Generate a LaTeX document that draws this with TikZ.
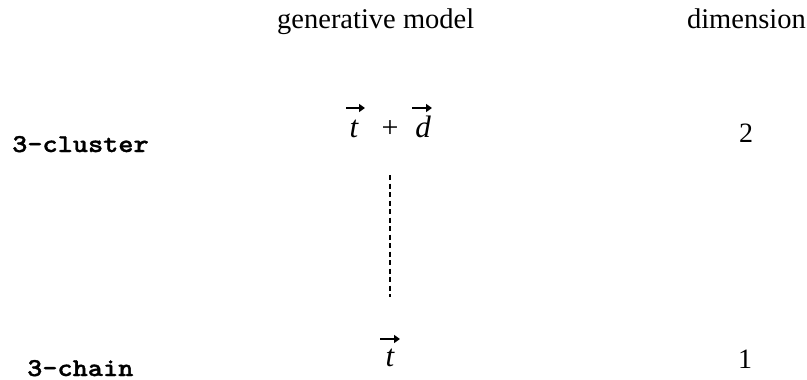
\documentclass[tikz,border=0pt]{standalone}
\usepackage{fontspec}
\setmainfont{Liberation Serif}
\newfontfamily\courb[FakeBold=1.2]{lmmonolt10-bold.otf}
\usetikzlibrary{calc,arrows.meta}
\tikzset{
  hd/.style={inner sep=0pt, anchor=base, font=\fontsize{28.5}{32}\selectfont},
  num/.style={inner sep=0pt, anchor=base, font=\fontsize{28}{32}\selectfont},
  lbl/.style={inner sep=0pt, anchor=base west, font=\fontsize{27}{30}\selectfont\courb},
  mvar/.style={inner sep=0pt, anchor=base, font=\fontsize{31}{34}\selectfont\itshape},
  mop/.style={inner sep=0pt, anchor=base, font=\fontsize{30}{34}\selectfont},
  vecarrow/.style={line width=2.2pt, -{Triangle[length=6pt,width=8pt]}},
  dotline/.style={line width=1.5pt, dash pattern=on 5pt off 3.5pt}
}
\begin{document}
\begin{tikzpicture}[x=1pt,y=-1pt]
\useasboundingbox (0,0) rectangle (807,380);
% headings
\node[hd, anchor=base west] (gm) at (277,28) {generative model};
\node[hd, anchor=base east] (dim) at (806,28) {dimension};
% row 1
\node[lbl] (cl) at (12,152) {\scalebox{1.07}[0.95]{3-cluster}};
\node[mvar] (tA) at (354,137) {t};
\node[mop] (plus) at (390,137) {+};
\node[mvar] (dA) at (423,137) {d};
\node[num] (two) at (746,142) {2};
\draw[vecarrow] ($(tA.base)+(-8,-29)$) -- ($(tA.base)+(11,-29)$);
\draw[vecarrow] ($(dA.base)+(-11,-29)$) -- ($(dA.base)+(9,-29)$);
% row 2
\node[lbl] (ch) at (27,376) {\scalebox{1.07}[0.95]{3-chain}};
\node[mvar] (tB) at (390,366) {t};
\node[num] (one) at (745,368) {1};
\draw[vecarrow] ($(tB.base)+(-10,-27)$) -- ($(tB.base)+(10,-27)$);
% dotted link
\coordinate (dtop) at (390,175);
\coordinate (dbot) at (390,297);
\draw[dotline] (dtop) -- (dbot);
\end{tikzpicture}
\end{document}
